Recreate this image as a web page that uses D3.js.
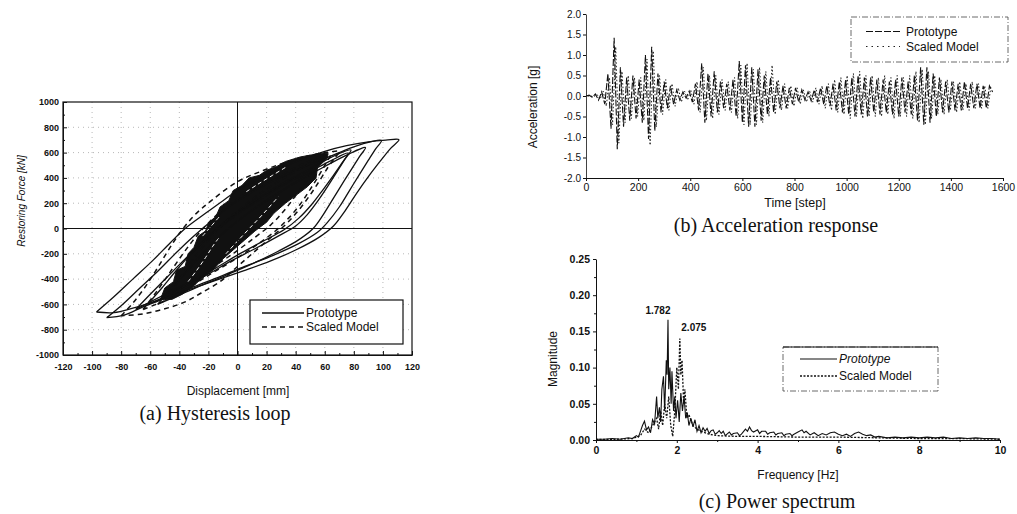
<!DOCTYPE html>
<html>
<head>
<meta charset="utf-8">
<script src="https://cdn.jsdelivr.net/npm/d3@7"></script>
<style>
  body { margin: 0; background: #fff; }
  svg { display: block; }
  .cap { font-family: "Liberation Serif", "Times New Roman", serif; font-size: 20px; fill: #111; }
  .lbl { font-family: "Liberation Sans", Arial, sans-serif; fill: #111; }
</style>
</head>
<body>
<svg id="fig" width="1017" height="514"></svg>
<script>
// ---------- (a) hysteresis loop: [displacement mm, force kN]
const dispTicks = [-120, -100, -80, -60, -40, -20, 0, 20, 40, 60, 80, 100, 120];
const forceTicks = [-1000, -800, -600, -400, -200, 0, 200, 400, 600, 800, 1000];

// outline of the dense black core
const coreOutline = [
  [-53,-560],[-50,-470],[-44,-420],[-42,-330],[-36,-300],[-34,-200],[-30,-150],[-27,-60],
  [-22,-20],[-20,40],[-15,90],[-12,170],[-6,220],[-3,300],[3,340],[8,400],[15,420],[20,460],
  [27,490],[33,530],[43,565],[50,580],[58,595],[62,590],
  [62,560],[55,480],[54,400],[48,330],[40,260],[33,200],[25,120],[20,50],[12,-20],[5,-90],
  [-3,-170],[-10,-240],[-17,-330],[-25,-400],[-32,-470],[-38,-520],[-45,-560]
];
// light gaps seen inside the core
const coreGaps = [
  [[-34,-420],[-28,-330],[-22,-230],[-17,-140],[-12,-60]],
  [[-8,-200],[0,-100],[9,10],[18,120],[28,250]],
  [[6,290],[14,350],[24,420],[34,490]],
  [[-24,-60],[-18,20],[-12,100]]
];

const protoLoops = [
  [[-97,-660],[-85,-540],[-72,-400],[-58,-250],[-46,-110],[-36,0],[-22,120],[-10,220],[0,300],[15,395],
   [30,480],[45,550],[60,610],[75,655],[90,685],[102,698],[111,702],[105,630],[98,530],[90,410],[82,280],
   [74,140],[66,20],[56,-70],[40,-170],[22,-260],[4,-335],[-15,-410],[-35,-490],[-55,-570],[-72,-630],
   [-85,-665],[-97,-660]],
  [[-90,-705],[-80,-610],[-68,-480],[-55,-340],[-42,-190],[-30,-60],[-18,60],[-5,180],[10,290],[25,380],
   [40,460],[55,530],[70,600],[85,665],[99,696],[95,630],[90,540],[84,430],[77,300],[70,170],[62,50],
   [55,-30],[42,-120],[25,-210],[5,-300],[-12,-380],[-30,-460],[-48,-545],[-65,-620],[-78,-685],[-90,-705]],
  [[-55,-600],[-45,-470],[-35,-340],[-25,-210],[-14,-80],[-2,40],[12,160],[28,280],[44,390],[60,490],
   [75,580],[88,640],[84,570],[79,480],[73,370],[66,240],[59,110],[52,0],[42,-90],[28,-180],[12,-270],
   [-8,-370],[-28,-465],[-45,-550],[-55,-600]],
  [[-62,-600],[-52,-470],[-42,-330],[-32,-200],[-20,-60],[-8,60],[5,170],[20,280],[35,380],[50,470],
   [64,560],[78,620],[74,550],[69,460],[63,350],[56,230],[48,110],[40,20],[28,-60],[12,-160],[-5,-260],
   [-20,-360],[-35,-450],[-50,-540],[-62,-600]],
  [[-70,-640],[-60,-520],[-48,-380],[-36,-240],[-24,-110],[-12,10],[2,130],[18,250],[34,360],[50,450],
   [64,535],[76,595],[72,520],[66,420],[59,310],[51,190],[42,80],[32,-10],[16,-110],[0,-210],[-16,-320],
   [-32,-420],[-48,-510],[-60,-580],[-70,-640]]
];

const scaledLoops = [
  [[-80,-690],[-72,-590],[-64,-470],[-56,-330],[-48,-180],[-40,-40],[-30,100],[-18,220],[0,370],[18,460],
   [35,530],[50,578],[62,602],[70,610],[67,560],[62,480],[56,370],[49,250],[41,130],[33,30],[22,-80],
   [10,-200],[0,-300],[-12,-420],[-25,-510],[-36,-580],[-50,-635],[-65,-675],[-80,-690]],
  [[-65,-640],[-57,-520],[-49,-390],[-40,-240],[-31,-100],[-22,20],[-10,150],[5,270],[22,380],[38,470],
   [52,545],[64,590],[61,520],[56,420],[50,310],[43,190],[35,80],[26,-20],[12,-140],[-4,-260],[-20,-370],
   [-35,-480],[-50,-570],[-65,-640]],
  [[-50,-570],[-42,-440],[-34,-300],[-25,-160],[-15,-30],[-4,100],[10,230],[25,350],[40,450],[55,540],
   [52,470],[47,370],[40,260],[32,140],[23,30],[12,-70],[-2,-190],[-20,-330],[-36,-450],[-50,-570]]
];

// ---------- (b) acceleration response, one sample every accStep steps
const timeTicks = [0, 200, 400, 600, 800, 1000, 1200, 1400, 1600];
const accTicks = [-2.0, -1.5, -1.0, -0.5, 0.0, 0.5, 1.0, 1.5, 2.0];
const accStep = 12;
const protoStart = 0;
const scaledStart = 6;
const protoAcc = [
  0, 0.02, -0.03, 0.05, -0.1, 0.1, -0.2, 0.55, -0.8, 1.42,
  -1.3, 0.7, -0.75, 0.45, -0.6, 0.5, -0.55, 0.4, -0.65, 1.0,
  -1.05, 1.2, -0.85, 0.55, -0.4, 0.35, -0.3, 0.25, -0.2, 0.15,
  -0.1, 0.1, -0.05, 0.12, -0.15, 0.3, -0.35, 0.8, -0.65, 0.55,
  -0.5, 0.6, -0.4, 0.35, -0.3, 0.3, -0.35, 0.4, -0.5, 0.85,
  -0.65, 0.75, -0.75, 0.7, -0.75, 0.65, -0.6, 0.5, -0.45, 0.45,
  -0.4, 0.35, -0.3, 0.25, -0.3, 0.2, -0.2, 0.2, -0.15, 0.15,
  -0.1, 0.1, -0.12, 0.15, -0.15, 0.2, -0.2, 0.25, -0.25, 0.3,
  -0.35, 0.35, -0.4, 0.4, -0.45, 0.45, -0.5, 0.5, -0.45, 0.45,
  -0.5, 0.45, -0.4, 0.4, -0.45, 0.4, -0.4, 0.35, -0.45, 0.4,
  -0.5, 0.45, -0.4, 0.35, -0.45, 0.5, -0.6, 0.7, -0.7, 0.7,
  -0.65, 0.55, -0.5, 0.45, -0.4, 0.35, -0.4, 0.35, -0.35, 0.3,
  -0.35, 0.35, -0.3, 0.3, -0.3, 0.3, -0.3, 0.25, -0.3, 0.25,
  0.1
];
const scaledAcc = [
  0, 0.0, -0.02, 0.04, -0.08, 0.12, -0.25, 0.45, -0.7, 1.2,
  -1.15, 0.6, -0.65, 0.5, -0.55, 0.45, -0.5, 0.45, -0.6, 0.9,
  -1.2, 1.1, -0.75, 0.5, -0.45, 0.4, -0.35, 0.3, -0.25, 0.2,
  -0.15, 0.12, -0.1, 0.15, -0.2, 0.35, -0.4, 0.7, -0.6, 0.5,
  -0.55, 0.5, -0.45, 0.4, -0.35, 0.35, -0.4, 0.45, -0.55, 0.75,
  -0.7, 0.8, -0.7, 0.65, -0.7, 0.7, -0.65, 0.6, -0.5, 0.75,
  -0.45, 0.4, -0.35, 0.3, -0.3, 0.25, -0.25, 0.2, -0.2, 0.15,
  -0.15, 0.12, -0.15, 0.2, -0.2, 0.25, -0.3, 0.3, -0.35, 0.4,
  -0.4, 0.45, -0.45, 0.5, -0.55, 0.55, -0.5, 0.6, -0.55, 0.5,
  -0.5, 0.5, -0.5, 0.45, -0.5, 0.5, -0.45, 0.45, -0.55, 0.5,
  -0.5, 0.45, -0.5, 0.5, -0.55, 0.6, -0.65, 0.65, -0.7, 0.6,
  -0.55, 0.5, -0.45, 0.4, -0.45, 0.4, -0.35, 0.35, -0.4, 0.35,
  -0.35, 0.3, -0.35, 0.35, -0.3, 0.3, -0.3, 0.25, -0.3, 0.25
];

// ---------- (c) power spectrum: [frequency Hz, magnitude]
const freqTicks = [0, 2, 4, 6, 8, 10];
const magTicks = [0, 0.05, 0.10, 0.15, 0.20, 0.25];
const protoSpec = [
  [0,0.001],[0.2,0.001],[0.4,0.002],[0.6,0.001],[0.8,0.003],[0.9,0.002],[1.0,0.006],[1.05,0.004],
  [1.1,0.012],[1.15,0.02],[1.2,0.026],[1.25,0.014],[1.3,0.018],[1.35,0.01],[1.4,0.028],[1.45,0.022],
  [1.5,0.06],[1.53,0.03],[1.57,0.045],[1.6,0.025],[1.63,0.07],[1.67,0.088],[1.7,0.04],[1.74,0.11],
  [1.76,0.09],[1.782,0.166],[1.8,0.07],[1.83,0.1],[1.86,0.05],[1.88,0.095],[1.92,0.04],[1.95,0.06],
  [1.98,0.03],[2.02,0.055],[2.06,0.025],[2.1,0.065],[2.14,0.04],[2.18,0.06],[2.22,0.03],[2.26,0.038],
  [2.3,0.02],[2.35,0.03],[2.4,0.018],[2.45,0.028],[2.5,0.012],[2.55,0.02],[2.6,0.01],[2.65,0.017],
  [2.7,0.012],[2.75,0.016],[2.8,0.009],[2.85,0.013],[2.9,0.014],[2.95,0.008],[3.0,0.01],[3.05,0.013],
  [3.1,0.009],[3.15,0.012],[3.2,0.006],[3.3,0.011],[3.35,0.007],[3.4,0.009],[3.5,0.01],[3.55,0.006],
  [3.6,0.008],[3.7,0.015],[3.75,0.012],[3.8,0.018],[3.85,0.013],[3.9,0.011],[4.0,0.014],[4.05,0.009],
  [4.1,0.012],[4.2,0.012],[4.25,0.008],[4.3,0.01],[4.4,0.011],[4.45,0.007],[4.5,0.009],[4.6,0.01],
  [4.65,0.006],[4.7,0.008],[4.8,0.009],[4.85,0.006],[4.9,0.008],[5.0,0.011],[5.1,0.014],[5.15,0.01],
  [5.2,0.012],[5.3,0.007],[5.4,0.01],[5.5,0.006],[5.6,0.009],[5.7,0.007],[5.8,0.01],[5.9,0.011],
  [6.0,0.008],[6.1,0.006],[6.2,0.008],[6.3,0.005],[6.4,0.009],[6.5,0.011],[6.6,0.008],[6.7,0.006],
  [6.8,0.007],[6.9,0.004],[7.0,0.005],[7.2,0.003],[7.4,0.004],[7.6,0.003],[7.8,0.004],[8.0,0.003],
  [8.2,0.004],[8.4,0.003],[8.6,0.004],[8.8,0.002],[9.0,0.003],[9.2,0.002],[9.4,0.003],[9.6,0.002],
  [9.8,0.002],[10,0.001]
];
const scaledSpec = [
  [0,0.001],[0.5,0.001],[0.9,0.002],[1.1,0.006],[1.2,0.015],[1.3,0.01],[1.4,0.02],[1.5,0.03],
  [1.55,0.015],[1.6,0.04],[1.65,0.02],[1.7,0.05],[1.75,0.03],[1.8,0.06],[1.85,0.02],[1.9,0.005],
  [1.95,0.04],[2.0,0.1],[2.04,0.07],[2.075,0.14],[2.1,0.09],[2.13,0.11],[2.17,0.05],[2.2,0.07],
  [2.25,0.03],[2.3,0.035],[2.4,0.02],[2.5,0.015],[2.6,0.012],[2.8,0.008],[3.0,0.006],[3.5,0.005],
  [4.0,0.005],[5.0,0.004],[6.0,0.004],[7.0,0.003],[8.0,0.002],[9.0,0.002],[10,0.001]
];
const peakLabels = [{f: 1.782, m: 0.166, text: '1.782', dx: -10, dy: -6}, {f: 2.075, m: 0.14, text: '2.075', dx: 14, dy: -8}];

const FONT = '"Liberation Sans", Arial, sans-serif';
const svg = d3.select('#fig');
svg.append('rect').attr('width', 1017).attr('height', 514).attr('fill', '#fff');

function styleAxis(g, size, weight) {
  g.attr('font-size', size).attr('font-family', FONT).attr('font-weight', weight || 'normal');
  g.selectAll('text').attr('fill', '#111');
  g.selectAll('line,path').attr('stroke', '#111');
}

// ================= (a) =================
const ax = d3.scaleLinear().domain([-120, 120]).range([63, 412]);
const ay = d3.scaleLinear().domain([-1000, 1000]).range([355, 102]);
const ga = svg.append('g');

ga.selectAll('.gx').data(dispTicks.filter(d => d !== 0 && Math.abs(d) !== 120)).join('line')
  .attr('x1', d => ax(d)).attr('x2', d => ax(d)).attr('y1', ay(1000)).attr('y2', ay(-1000))
  .attr('stroke', '#999').attr('stroke-width', 0.7).attr('stroke-dasharray', '1,4');
ga.selectAll('.gy').data(forceTicks.filter(d => d !== 0 && Math.abs(d) !== 1000)).join('line')
  .attr('y1', d => ay(d)).attr('y2', d => ay(d)).attr('x1', ax(-120)).attr('x2', ax(120))
  .attr('stroke', '#999').attr('stroke-width', 0.7).attr('stroke-dasharray', '1,4');

const loopLine = d3.line().x(d => ax(d[0])).y(d => ay(d[1])).curve(d3.curveCatmullRom.alpha(0.5));
ga.append('path').attr('d', d3.line().x(d => ax(d[0])).y(d => ay(d[1])).curve(d3.curveLinearClosed)(coreOutline))
  .attr('fill', '#111').attr('stroke', '#111').attr('stroke-width', 1);
ga.selectAll('.gap').data(coreGaps).join('path')
  .attr('d', loopLine).attr('fill', 'none').attr('stroke', '#fff').attr('stroke-width', 1)
  .attr('stroke-dasharray', '4,3');
ga.selectAll('.pl').data(protoLoops).join('path')
  .attr('d', loopLine).attr('fill', 'none').attr('stroke', '#111').attr('stroke-width', 1.3);
ga.selectAll('.sl').data(scaledLoops).join('path')
  .attr('d', loopLine).attr('fill', 'none').attr('stroke', '#111').attr('stroke-width', 1.5)
  .attr('stroke-dasharray', '5,4');

ga.append('line').attr('x1', ax(0)).attr('x2', ax(0)).attr('y1', ay(1000)).attr('y2', ay(-1000)).attr('stroke', '#111');
ga.append('line').attr('x1', ax(-120)).attr('x2', ax(120)).attr('y1', ay(0)).attr('y2', ay(0)).attr('stroke', '#111');
ga.append('rect').attr('x', ax(-120)).attr('y', ay(1000)).attr('width', ax(120) - ax(-120)).attr('height', ay(-1000) - ay(1000))
  .attr('fill', 'none').attr('stroke', '#111').attr('stroke-width', 1.2);

const axA = ga.append('g').attr('transform', `translate(0,${ay(-1000)})`)
  .call(d3.axisBottom(ax).tickValues(dispTicks).tickFormat(d => String(d)).tickSizeInner(-4).tickSizeOuter(0).tickPadding(9));
styleAxis(axA, 9, 'bold');
ga.append('g').attr('transform', `translate(0,${ay(-1000)})`)
  .call(d3.axisBottom(ax).tickValues(d3.range(-110, 120, 20)).tickFormat('').tickSizeInner(-2).tickSizeOuter(0))
  .call(g => g.select('.domain').remove()).call(g => styleAxis(g, 9));
const ayA = ga.append('g').attr('transform', `translate(${ax(-120)},0)`)
  .call(d3.axisLeft(ay).tickValues(forceTicks).tickFormat(d => String(d)).tickSizeInner(-4).tickSizeOuter(0).tickPadding(4));
styleAxis(ayA, 9, 'bold');
ga.append('g').attr('transform', `translate(${ax(-120)},0)`)
  .call(d3.axisLeft(ay).tickValues(d3.range(-900, 1000, 200)).tickFormat('').tickSizeInner(-2).tickSizeOuter(0))
  .call(g => g.select('.domain').remove()).call(g => styleAxis(g, 9));

ga.append('text').attr('class', 'lbl').attr('x', 238).attr('y', 395).attr('text-anchor', 'middle')
  .attr('font-size', 12).text('Displacement [mm]');
ga.append('text').attr('class', 'lbl').attr('transform', 'translate(25,201) rotate(-90)').attr('text-anchor', 'middle')
  .attr('font-size', 10).attr('font-style', 'italic').text('Restoring Force [kN]');
ga.append('text').attr('class', 'cap').attr('x', 215).attr('y', 420).attr('text-anchor', 'middle').text('(a) Hysteresis loop');

const legA = ga.append('g');
legA.append('rect').attr('x', 250).attr('y', 300).attr('width', 153).attr('height', 44)
  .attr('fill', '#fff').attr('stroke', '#111').attr('stroke-width', 1.2);
legA.append('line').attr('x1', 262).attr('x2', 304).attr('y1', 313).attr('y2', 313).attr('stroke', '#111').attr('stroke-width', 1.3);
legA.append('line').attr('x1', 262).attr('x2', 304).attr('y1', 327).attr('y2', 327).attr('stroke', '#111').attr('stroke-width', 1.5).attr('stroke-dasharray', '5,4');
legA.append('text').attr('class', 'lbl').attr('x', 306).attr('y', 317).attr('font-size', 12).text('Prototype');
legA.append('text').attr('class', 'lbl').attr('x', 306).attr('y', 331).attr('font-size', 12).text('Scaled Model');

// ================= (b) =================
const bx = d3.scaleLinear().domain([0, 1600]).range([586, 1003]);
const by = d3.scaleLinear().domain([-2, 2]).range([178, 14]);
const gb = svg.append('g');
const accLine = start => d3.line().x((d, i) => bx(start + i * accStep)).y(d => by(d));

gb.append('path').attr('d', accLine(scaledStart)(scaledAcc)).attr('fill', 'none')
  .attr('stroke', '#222').attr('stroke-width', 1).attr('stroke-dasharray', '1.5,2');
gb.append('path').attr('d', accLine(protoStart)(protoAcc)).attr('fill', 'none')
  .attr('stroke', '#111').attr('stroke-width', 1.1).attr('stroke-dasharray', '7,2');

const bxA = gb.append('g').attr('transform', `translate(0,${by(-2)})`)
  .call(d3.axisBottom(bx).tickValues(timeTicks).tickFormat(d => String(d)).tickSizeInner(3).tickSizeOuter(0).tickPadding(3));
styleAxis(bxA, 10.5);
const byA = gb.append('g').attr('transform', `translate(${bx(0)},0)`)
  .call(d3.axisLeft(by).tickValues(accTicks).tickFormat(d => d.toFixed(1).replace('\u2212', '-')).tickSizeInner(3).tickSizeOuter(0).tickPadding(2));
styleAxis(byA, 10);
byA.selectAll('.domain').attr('stroke-width', 0.8);

gb.append('text').attr('class', 'lbl').attr('x', 795).attr('y', 207).attr('text-anchor', 'middle')
  .attr('font-size', 12.5).text('Time [step]');
gb.append('text').attr('class', 'lbl').attr('transform', 'translate(537,107) rotate(-90)').attr('text-anchor', 'middle')
  .attr('font-size', 12).text('Acceleration [g]');
gb.append('text').attr('class', 'cap').attr('x', 776).attr('y', 232).attr('text-anchor', 'middle').text('(b) Acceleration response');

const legB = gb.append('g');
legB.append('rect').attr('x', 851).attr('y', 17).attr('width', 157).attr('height', 45)
  .attr('fill', '#fff').attr('stroke', '#444').attr('stroke-width', 0.8).attr('stroke-dasharray', '6,2,1,2');
legB.append('line').attr('x1', 866).attr('x2', 900).attr('y1', 31.5).attr('y2', 31.5).attr('stroke', '#111').attr('stroke-dasharray', '7,2');
legB.append('line').attr('x1', 866).attr('x2', 900).attr('y1', 46.5).attr('y2', 46.5).attr('stroke', '#222').attr('stroke-dasharray', '1.5,4');
legB.append('text').attr('class', 'lbl').attr('x', 906).attr('y', 36).attr('font-size', 12).text('Prototype');
legB.append('text').attr('class', 'lbl').attr('x', 906).attr('y', 51).attr('font-size', 12).text('Scaled Model');

// ================= (c) =================
const cx = d3.scaleLinear().domain([0, 10]).range([596, 1000]);
const cy = d3.scaleLinear().domain([0, 0.25]).range([440, 259]);
const gc = svg.append('g');
const specLine = d3.line().x(d => cx(d[0])).y(d => cy(d[1]));

gc.append('path').attr('d', specLine(scaledSpec)).attr('fill', 'none')
  .attr('stroke', '#111').attr('stroke-width', 1.3).attr('stroke-dasharray', '2,1.5');
gc.append('path').attr('d', specLine(protoSpec)).attr('fill', 'none')
  .attr('stroke', '#111').attr('stroke-width', 1.1);

const cxA = gc.append('g').attr('transform', `translate(0,${cy(0)})`)
  .call(d3.axisBottom(cx).tickValues(freqTicks).tickFormat(d => String(d)).tickSizeInner(3).tickSizeOuter(0).tickPadding(4));
styleAxis(cxA, 10.5, 'bold');
gc.append('g').attr('transform', `translate(0,${cy(0)})`)
  .call(d3.axisBottom(cx).tickValues(d3.range(1, 10, 2)).tickFormat('').tickSizeInner(2).tickSizeOuter(0))
  .call(g => g.select('.domain').remove()).call(g => styleAxis(g, 9));
const cyA = gc.append('g').attr('transform', `translate(${cx(0)},0)`)
  .call(d3.axisLeft(cy).tickValues(magTicks).tickFormat(d => d.toFixed(2)).tickSizeInner(3).tickSizeOuter(0).tickPadding(3));
styleAxis(cyA, 10.5, 'bold');
gc.append('g').attr('transform', `translate(${cx(0)},0)`)
  .call(d3.axisLeft(cy).tickValues(d3.range(0.025, 0.25, 0.05)).tickFormat('').tickSizeInner(2).tickSizeOuter(0))
  .call(g => g.select('.domain').remove()).call(g => styleAxis(g, 9));

gc.selectAll('.pk').data(peakLabels).join('text').attr('class', 'lbl')
  .attr('x', d => cx(d.f) + d.dx).attr('y', d => cy(d.m) + d.dy).attr('text-anchor', 'middle')
  .attr('font-size', 10).attr('font-weight', 'bold').text(d => d.text);

gc.append('text').attr('class', 'lbl').attr('x', 798).attr('y', 479).attr('text-anchor', 'middle')
  .attr('font-size', 12).text('Frequency [Hz]');
gc.append('text').attr('class', 'lbl').attr('transform', 'translate(557,359) rotate(-90)').attr('text-anchor', 'middle')
  .attr('font-size', 12).text('Magnitude');
gc.append('text').attr('class', 'cap').attr('x', 777).attr('y', 508).attr('text-anchor', 'middle').text('(c) Power spectrum');

const legC = gc.append('g');
legC.append('rect').attr('x', 783).attr('y', 347).attr('width', 155).attr('height', 44)
  .attr('fill', '#fff').attr('stroke', '#444').attr('stroke-width', 0.8).attr('stroke-dasharray', '6,2,1,2');
legC.append('line').attr('x1', 783).attr('x2', 938).attr('y1', 347).attr('y2', 347).attr('stroke', '#111').attr('stroke-width', 1);
legC.append('line').attr('x1', 800).attr('x2', 837).attr('y1', 359).attr('y2', 359).attr('stroke', '#111').attr('stroke-width', 1.1);
legC.append('line').attr('x1', 800).attr('x2', 837).attr('y1', 376).attr('y2', 376).attr('stroke', '#111').attr('stroke-width', 1.3).attr('stroke-dasharray', '2,1.5');
legC.append('text').attr('class', 'lbl').attr('x', 839).attr('y', 363).attr('font-size', 12).attr('font-style', 'italic').text('Prototype');
legC.append('text').attr('class', 'lbl').attr('x', 839).attr('y', 380).attr('font-size', 12).text('Scaled Model');
</script>
</body>
</html>
